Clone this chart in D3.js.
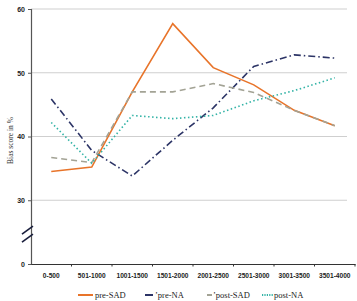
<!DOCTYPE html>
<html>
<head>
<meta charset="utf-8">
<script src="https://cdn.jsdelivr.net/npm/d3@7"></script>
<style>
  body { margin: 0; background: #fff; }
  svg { display: block; font-family: "Liberation Serif", "DejaVu Serif", serif; }
</style>
</head>
<body>
<div id="chart"></div>
<script>
// --- Data ---
const categories = ['0-500', '501-1000', '1001-1500', '1501-2000', '2001-2500', '2501-3000', '3001-3500', '3501-4000'];
const preSAD  = [34.5, 35.2, 47.0, 57.7, 50.8, 48.1, 44.1, 41.7];
const preNA   = [45.9, 37.8, 33.8, 39.4, 44.5, 51.0, 52.8, 52.3];
const postSAD = [36.7, 35.9, 47.0, 47.0, 48.3, 46.9, 44.1, 41.7];
const postNA  = [42.2, 35.8, 43.3, 42.8, 43.3, 45.6, 47.2, 49.2];
const yTicks = [20, 30, 40, 50, 60];   // 20 sits where the broken axis shows "0"
const yTickLabels = ['0', '30', '40', '50', '60'];

const series = [
    { name: 'pre-SAD',  values: preSAD,  color: '#e8742a', dash: null,          width: 1.6 },
    { name: 'pre-NA',   values: preNA,   color: '#2c3466', dash: '7,3,1.5,3',   width: 1.6 },
    { name: 'post-SAD', values: postSAD, color: '#a3a395', dash: '6,4',         width: 1.6 },
    { name: 'post-NA',  values: postNA,  color: '#33b3a6', dash: '1.5,2.5',     width: 1.6 }
];

// --- Layout ---
const width = 357, height = 301;
const margin = { left: 31, right: 2, top: 9, bottom: 37 };

const svg = d3.select('#chart').append('svg')
    .attr('width', width)
    .attr('height', height);

const x = d3.scaleBand()
    .domain(categories)
    .range([margin.left, width - margin.right]);

const y = d3.scaleLinear()
    .domain([20, 60])
    .range([height - margin.bottom, margin.top]);

// Gridlines (not at the bottom)
svg.append('g')
    .selectAll('line')
    .data(yTicks.filter(t => t > 20))
    .join('line')
    .attr('x1', margin.left)
    .attr('x2', width - 10)
    .attr('y1', d => y(d))
    .attr('y2', d => y(d))
    .attr('stroke', '#cfcfcf')
    .attr('stroke-width', 1.2);

// Y axis
const yAxis = svg.append('g')
    .attr('transform', `translate(${margin.left},0)`)
    .call(d3.axisLeft(y).tickValues(yTicks).tickSize(3).tickFormat((d, i) => yTickLabels[i]));
yAxis.select('.domain').attr('stroke', '#555').attr('stroke-width', 1.2);
yAxis.selectAll('.tick line').attr('stroke', '#555');
yAxis.selectAll('text')
    .attr('font-size', 7)
    .attr('font-weight', 'bold')
    .attr('fill', '#222')
    .attr('x', -6);

// Axis break marks
const breakY = (y(20) + y(30)) / 2;
[-2, 6].forEach(off => {
    svg.append('line')
        .attr('x1', margin.left - 9).attr('x2', margin.left + 2)
        .attr('y1', breakY + off + 4).attr('y2', breakY + off - 4)
        .attr('stroke', '#1a1f3d').attr('stroke-width', 1.6);
});

// X axis
const xAxis = svg.append('g')
    .attr('transform', `translate(0,${y(20)})`)
    .call(d3.axisBottom(x).tickSize(0).tickPadding(9));
xAxis.select('.domain').attr('stroke', '#333').attr('stroke-width', 1.2);
xAxis.selectAll('text')
    .attr('font-size', 6.6)
    .attr('font-weight', 'bold')
    .attr('fill', '#222');
// small ticks between categories
xAxis.append('g')
    .selectAll('line')
    .data(categories)
    .join('line')
    .attr('x1', d => x(d) + x.bandwidth())
    .attr('x2', d => x(d) + x.bandwidth())
    .attr('y1', 0).attr('y2', 2.5)
    .attr('stroke', '#333');

// Y label
svg.append('text')
    .attr('transform', `translate(13,${(y(20) + y(60)) / 2 + 4}) rotate(-90)`)
    .attr('text-anchor', 'middle')
    .attr('font-size', 7.5)
    .attr('fill', '#333')
    .text('Bias score in  %');

// Lines
const line = d3.line()
    .x((d, i) => x(categories[i]) + x.bandwidth() / 2)
    .y(d => y(d));

svg.append('g')
    .selectAll('path')
    .data(series)
    .join('path')
    .attr('d', d => line(d.values))
    .attr('fill', 'none')
    .attr('stroke', d => d.color)
    .attr('stroke-width', d => d.width)
    .attr('stroke-dasharray', d => d.dash);

// Legend
const legendY = 295;
const legendItems = [
    { s: series[0], x0: 78,  x1: 93,  tx: 95,  label: 'pre-SAD' },
    { s: series[1], x0: 145, x1: 153, tx: 155, label: '\u02BCpre-NA' },
    { s: series[2], x0: 207, x1: 212, tx: 213, label: '\u02BCpost-SAD' },
    { s: series[3], x0: 262, x1: 273, tx: 274, label: 'post-NA' }
];
const legend = svg.append('g');
legendItems.forEach(it => {
    legend.append('line')
        .attr('x1', it.x0).attr('x2', it.x1)
        .attr('y1', legendY).attr('y2', legendY)
        .attr('stroke', it.s.color)
        .attr('stroke-width', 2)
        .attr('stroke-dasharray', it.s.name === 'post-NA' ? '1.2,1.2' : null);
    legend.append('text')
        .attr('x', it.tx)
        .attr('y', legendY + 3)
        .attr('font-size', 8.5)
        .attr('fill', '#222')
        .text(it.label);
});
</script>
</body>
</html>
